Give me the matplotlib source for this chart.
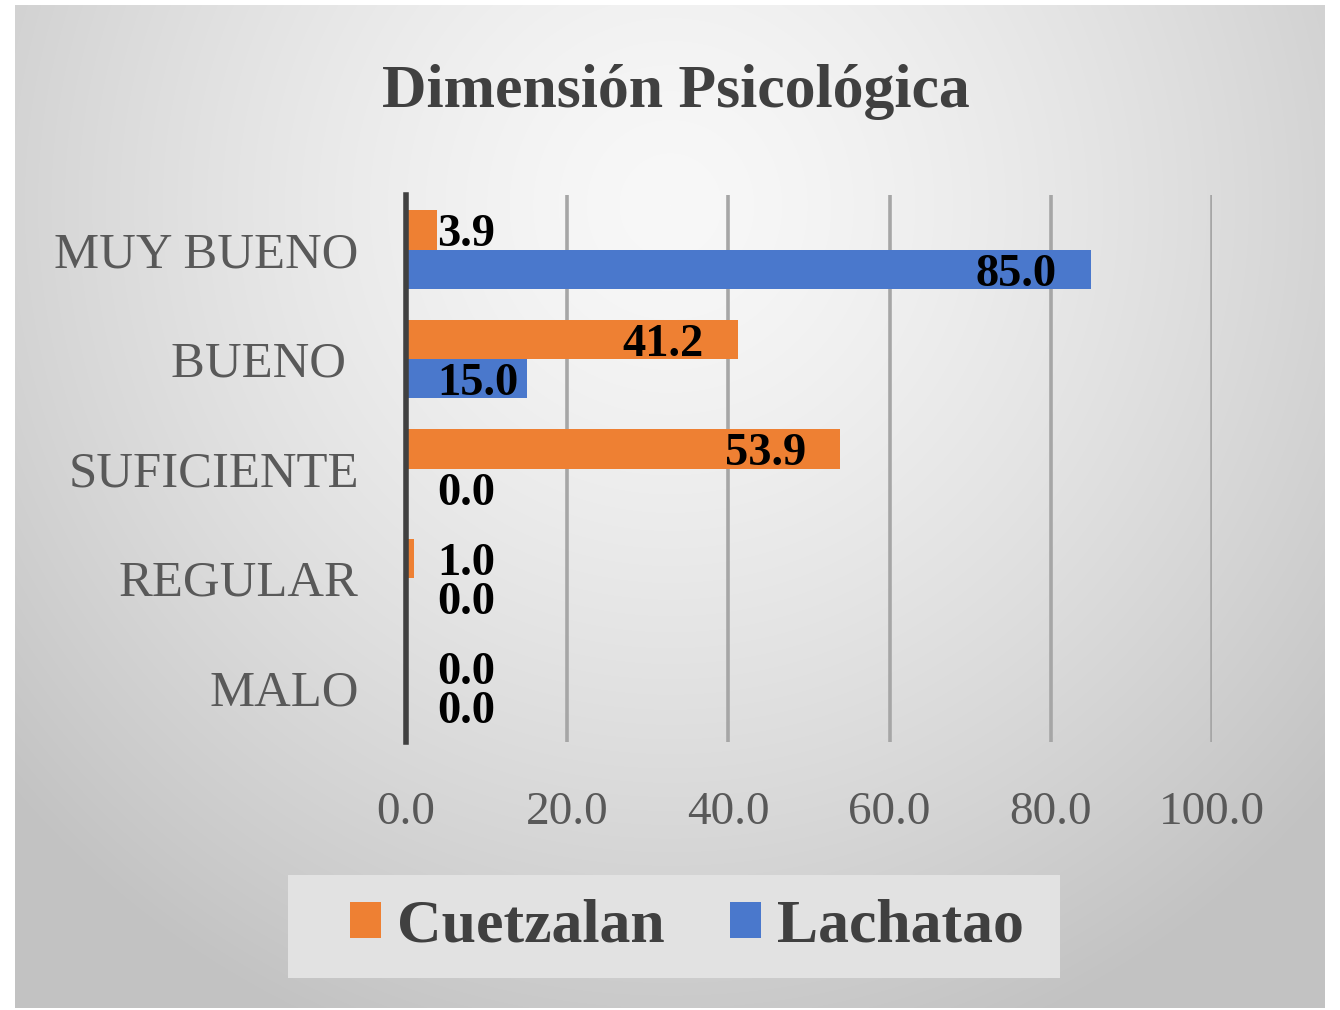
import numpy as np
import matplotlib
matplotlib.use("Agg")
import matplotlib.pyplot as plt
from matplotlib.patches import Patch, Rectangle

plt.rcParams['font.family'] = ['Liberation Serif', 'DejaVu Serif']

categorias = ['MUY BUENO', 'BUENO ', 'SUFICIENTE', 'REGULAR', 'MALO']
cuetzalan = [3.9, 41.2, 53.9, 1.0, 0.0]
lachatao = [85.0, 15.0, 0.0, 0.0, 0.0]
series = ['Cuetzalan', 'Lachatao']
colores = ['#EE8033', '#4A78CC']
xticks = [0, 20, 40, 60, 80, 100]

W, H = 1340, 1010
fig = plt.figure(figsize=(W / 100, H / 100), dpi=100)
fig.patch.set_facecolor('white')

# fondo con degradado radial
bg = fig.add_axes([15 / W, 1 - 1008 / H, 1310 / W, 1003 / H])
bw, bh = 1310, 1003
xx, yy = np.meshgrid(np.arange(bw), np.arange(bh))
d = np.sqrt(((xx - 655) / 880.0) ** 2 + ((yy - 200) / 900.0) ** 2)
g = 248 - 54 * np.clip(d, 0, 1) ** 1.4
img = np.dstack([g, g, g]) / 255.0
bg.imshow(img, aspect='auto', extent=[0, bw, bh, 0])
bg.set_axis_off()

ax = fig.add_axes([406 / W, 1 - 742 / H, 806 / W, 547 / H])
ax.set_facecolor('none')

y = np.arange(len(categorias))
h = 0.36
ax.barh(y - 0.18, cuetzalan, height=h, color=colores[0], zorder=3)
ax.barh(y + 0.18, lachatao, height=h, color=colores[1], zorder=3)

ax.set_xlim(0, 100)
ax.set_ylim(4.5, -0.5)
ax.set_xticks(xticks)
ax.set_xticklabels(['%.1f' % t for t in xticks], fontsize=34, color='#595959')
ax.set_yticks(y)
ax.set_yticklabels(categorias, fontsize=36.5, color='#595959')
ax.tick_params(axis='both', length=0)
ax.tick_params(axis='y', pad=34)
ax.tick_params(axis='x', pad=36)
ax.grid(axis='x', color='#a6a6a6', linewidth=2.6, zorder=1)
ax.set_axisbelow(True)
for s in ['top', 'right', 'bottom']:
    ax.spines[s].set_visible(False)
ax.spines['left'].set_color('#404040')
ax.spines['left'].set_linewidth(4)
ax.spines['left'].set_zorder(5)

for vals, off in [(cuetzalan, -0.18), (lachatao, 0.18)]:
    for i, v in enumerate(vals):
        if v > 30:
            ax.text(v - 4.3, i + off + 0.05, '%.1f' % v, ha='right', va='center',
                    fontsize=33.5, fontweight='bold', color='black', zorder=6)
        else:
            ax.text(3.9, i + off + 0.05, '%.1f' % v, ha='left', va='center',
                    fontsize=33.5, fontweight='bold', color='black', zorder=6)

fig.text(676 / W, 1 - 92 / H, 'Dimensión Psicológica', ha='center', va='center',
         fontsize=44.5, fontweight='bold', color='#404040')

# caja de la leyenda
fig.patches.append(Rectangle((288 / W, 1 - 978 / H), 772 / W, 103 / H,
                             transform=fig.transFigure, facecolor='#e2e2e2',
                             edgecolor='none', zorder=1))
handles = [Patch(facecolor=c, edgecolor='none') for c in colores]
leg = fig.legend(handles, series, loc='center', bbox_to_anchor=(687 / W, 1 - 927 / H),
                 ncol=2, frameon=False, handlelength=0.5, handleheight=0.53,
                 handletextpad=0.27, columnspacing=1.05,
                 prop={'size': 44.5, 'weight': 'bold'})
for t in leg.get_texts():
    t.set_color('#404040')

fig.savefig('out.png', dpi=100, facecolor='white')
